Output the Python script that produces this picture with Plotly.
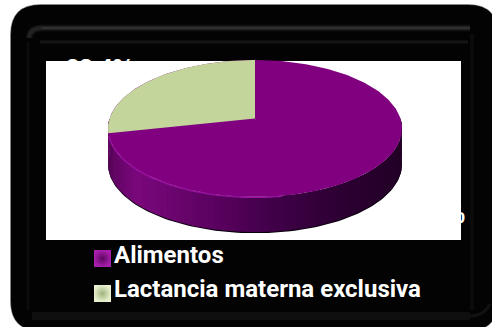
import numpy as np
import plotly.graph_objects as go

# Chart content
categories = ["Alimentos", "Lactancia materna exclusiva"]
shares = [71.6, 28.4]
top_colors = ["#800080", "#c3d59b"]
swatch_centers = ["#a81eac", "#e8f0cf"]
swatch_edges = ["#5e0660", "#9fb37a"]

# Pie geometry in pixel space
CX, CY, RX, RY = 255.0, 128.5, 147.0, 68.5
DEPTH = 35.0
TILT = 0.146  # perspective shift of the pie centre towards the back


def rim(theta, drop=0.0):
    """Project a clockwise-from-north angle on the disc to the tilted ellipse."""
    u, v = np.sin(theta), np.cos(theta)
    w = 1 + TILT * v
    x = u * np.sqrt(1 - TILT ** 2) / w
    y = (v + TILT) / w
    return CX + RX * x, CY - RY * y + drop


def mix(c0, c1, t):
    return "rgb({},{},{})".format(*[round(a + (b - a) * t) for a, b in zip(c0, c1)])


def area(x, y, color, **kw):
    return go.Scatter(x=list(x), y=list(y), mode="lines", fill="toself", fillcolor=color,
                      line=dict(width=0, color=color), hoverinfo="skip", showlegend=False, **kw)


fig = go.Figure()

# Percentage labels sit behind the white panel, only their edges show
label_font = dict(family="Liberation Sans", size=24, color="white", weight="bold")
fig.add_trace(go.Scatter(x=[100, 431], y=[70, 217], mode="text",
                         text=[f"{shares[1]:.1f}%", f"{shares[0]:.1f}%"],
                         textfont=label_font, textposition="middle center",
                         hoverinfo="skip", showlegend=False, cliponaxis=False))

# White panel
fig.add_trace(area([46, 461, 461, 46, 46], [61, 61, 240, 240, 61], "white"))

# Soft shadow round the lower wall
full = np.linspace(0, 2 * np.pi, 241)
lower = np.linspace(np.pi * 0.5, np.pi * 1.5, 121)
sx, sy = rim(lower, DEPTH + 1.2)
tx, ty = rim(lower[::-1], 0)
fig.add_trace(area(np.r_[sx, tx], np.r_[sy, ty], "#0a000c"))

# Side wall, shaded from the lit left side to the dark right side
stops = [(0.0, (92, 4, 94)), (0.1, (122, 8, 124)), (0.42, (84, 0, 90)), (0.55, (66, 0, 74)),
         (0.8, (44, 0, 50)), (1.0, (34, 0, 38))]
edges = np.linspace(np.pi * 1.5, np.pi * 0.5, 91)
for a0, a1 in zip(edges[:-1], edges[1:]):
    seg = np.linspace(a0, a1 - 0.012, 4)
    xa, ya = rim(seg, 0)
    xb, yb = rim(seg[::-1], DEPTH)
    t = (np.mean(xa) - (CX - RX)) / (2 * RX)
    for (t0, c0), (t1, c1) in zip(stops[:-1], stops[1:]):
        if t0 <= t <= t1:
            color = mix(c0, c1, (t - t0) / (t1 - t0))
            break
    fig.add_trace(area(np.r_[xa, xb], np.r_[ya, yb], color))

# Top face: main disc, then the smaller wedge running anticlockwise from north
x, y = rim(full)
fig.add_trace(area(x, y, top_colors[0]))
wedge = np.linspace(0, -2 * np.pi * shares[1] / sum(shares), 80)
wx, wy = rim(wedge)
fig.add_trace(area(np.r_[CX, wx, CX], np.r_[CY - RY * TILT, wy, CY - RY * TILT], top_colors[1]))

# Bright bevel along the front rim of the disc
bevel = np.linspace(np.pi * 1.42, np.pi * 0.95, 60)
bx, by = rim(bevel, 0.5)
fig.add_trace(go.Scatter(x=bx, y=by, mode="lines", line=dict(color="#9a12a0", width=1.3),
                         hoverinfo="skip", showlegend=False))

# Legend swatches and labels
fig.add_trace(go.Scatter(
    x=[102.5, 102.5], y=[258.5, 293.5], mode="markers",
    marker=dict(symbol="square", size=17, color=swatch_centers, line=dict(width=0),
                gradient=dict(type="radial", color=swatch_edges)),
    hoverinfo="skip", showlegend=False))
fig.add_trace(go.Scatter(
    x=[114, 114], y=[257, 291], mode="text", text=categories, textposition="middle right",
    textfont=dict(family="Roboto", size=24, color="white", weight="bold"),
    hoverinfo="skip", showlegend=False, cliponaxis=False))


def rounded(x0, y0, x1, y1, r):
    return (f"M{x0 + r},{y0} L{x1 - r},{y0} Q{x1},{y0} {x1},{y0 + r} L{x1},{y1 - r} "
            f"Q{x1},{y1} {x1 - r},{y1} L{x0 + r},{y1} Q{x0},{y1} {x0},{y1 - r} "
            f"L{x0},{y0 + r} Q{x0},{y0} {x0 + r},{y0} Z")


shapes = [
    dict(type="path", path=rounded(10.5, 4.5, 498, 331, 30), fillcolor="#030303",
         line=dict(color="#8c8c8c", width=0.5), layer="below"),
]
# Bevel lines of the frame, layered to soften them
for path, color, width in [
    ("M29,38 Q30,28 42,28 L470,28", "rgba(60,60,60,0.22)", 7),
    ("M29,38 Q30,28 42,28 L470,28", "rgba(70,70,70,0.35)", 4),
    ("M42,28 L470,28", "rgba(72,72,72,0.7)", 1.2),
    ("M40,42 L468,42", "rgba(50,50,50,0.22)", 4),
    ("M40,42 L468,42", "rgba(50,50,50,0.4)", 1.2),
    ("M28,42 L28,310", "rgba(24,24,24,0.4)", 3),
    ("M472,34 L472,310", "rgba(26,26,26,0.4)", 4),
    ("M32,316 L470,316", "rgba(44,44,44,0.3)", 8),
    ("M470,316 Q484,316 490,304", "rgba(40,40,40,0.4)", 3),
]:
    shapes.append(dict(type="path", path=path, line=dict(color=color, width=width), layer="below"))

fig.update_layout(
    width=492, height=327, margin=dict(l=0, r=0, t=0, b=0),
    paper_bgcolor="white", plot_bgcolor="rgba(0,0,0,0)", showlegend=False,
    xaxis=dict(range=[0, 492], visible=False, fixedrange=True),
    yaxis=dict(range=[327, 0], visible=False, fixedrange=True),
    shapes=shapes,
)
fig.write_html("out.html", config={"displayModeBar": False})
